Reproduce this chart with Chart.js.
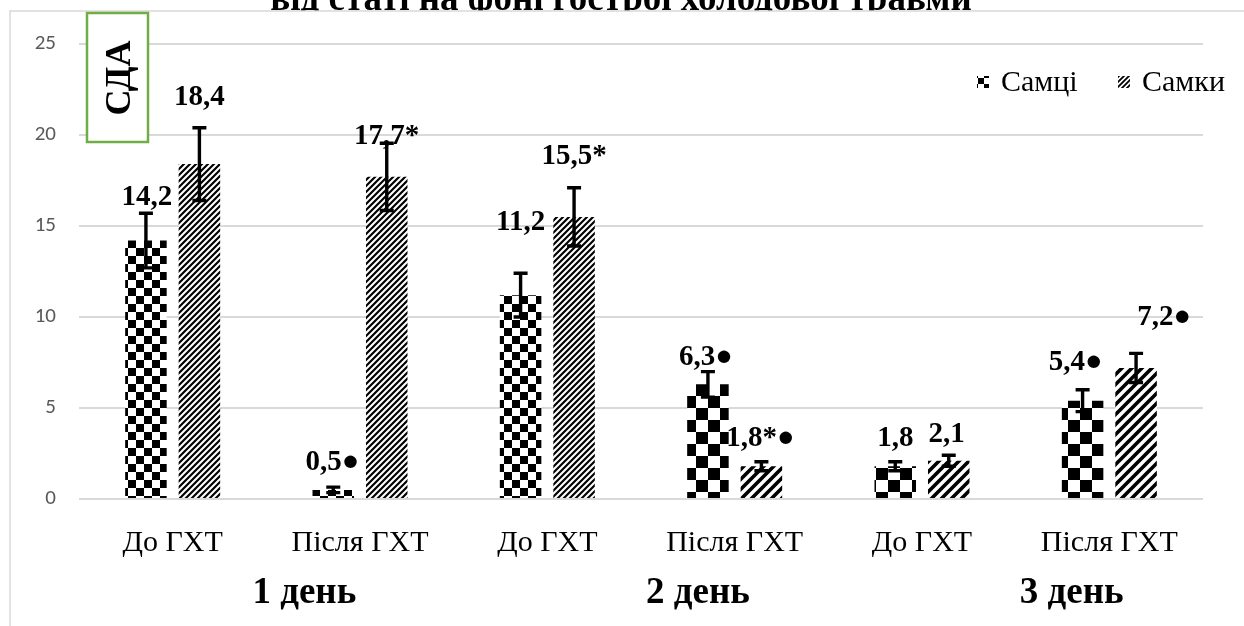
<!DOCTYPE html>
<html>
<head>
<meta charset="utf-8">
<title>СДА</title>
<script src="https://cdn.jsdelivr.net/npm/chart.js"></script>
<style>
  body { margin: 0; background: #fff; }
  #chart { display: block; }
</style>
</head>
<body>
<canvas id="chart" width="1244" height="626"></canvas>
<script>
  // values
  const categories = ['До ГХТ', 'Після ГХТ', 'До ГХТ', 'Після ГХТ', 'До ГХТ', 'Після ГХТ'];
  const days = ['1 день', '2 день', '3 день'];
  const seriesNames = ['Самці', 'Самки'];
  const males = [14.2, 0.5, 11.2, 6.3, 1.8, 5.4];
  const females = [18.4, 17.7, 15.5, 1.8, 2.1, 7.2];
  const malesErr = [1.5, 0.15, 1.2, 0.7, 0.25, 0.6];
  const femalesErr = [2.0, 1.85, 1.6, 0.25, 0.3, 0.8];
  const malesMarks = ['', '●', '', '●', '', '●'];
  const femalesMarks = ['', '*', '*', '*●', '', '●'];
  const yTicks = [0, 5, 10, 15, 20, 25];
  const titleText = 'від статі на фоні гострої холодової травми';
  const boxText = 'СДА';

  // label nudges in px (text boxes were moved by hand in the original)
  const labelDx = [[1, -1, 0, -2, 0, -7], [0, 0, 0, -1, -2, 28]];
  const labelDy = [[-43, -27, -73, -27, -28, -38], [-67, -40, -60, -28, -26, -50]];
  const dayDx = [38, 57, 56];
  // pattern size per category (the later bars had a coarser fill)
  const checkScale = [8, 8, 8, 12, 12, 12];
  const hatchScale = [6, 6, 6, 10, 10, 10];

  const serif = '"Liberation Serif", "Times New Roman", serif';
  const canvas = document.getElementById('chart');
  const ctx = canvas.getContext('2d');

  function checker(size) {
    const c = document.createElement('canvas');
    c.width = c.height = size * 2;
    const g = c.getContext('2d');
    g.fillStyle = '#fff';
    g.fillRect(0, 0, size * 2, size * 2);
    g.fillStyle = '#000';
    g.fillRect(0, 0, size, size);
    g.fillRect(size, size, size, size);
    return ctx.createPattern(c, 'repeat');
  }

  function hatch(s) {
    const c = document.createElement('canvas');
    c.width = c.height = s;
    const g = c.getContext('2d');
    g.fillStyle = '#fff';
    g.fillRect(0, 0, s, s);
    g.strokeStyle = '#000';
    g.lineWidth = s * 0.36;
    g.beginPath();
    g.moveTo(-1, s + 1); g.lineTo(s + 1, -1);
    g.moveTo(-s / 2, s / 2); g.lineTo(s / 2, -s / 2);
    g.moveTo(s / 2, s * 1.5); g.lineTo(s * 1.5, s / 2);
    g.stroke();
    return ctx.createPattern(c, 'repeat');
  }

  const fmt = v => v.toFixed(1).replace('.', ',');

  const decor = {
    id: 'decor',
    beforeDraw(chart) {
      const c = chart.ctx;
      c.save();
      c.fillStyle = '#fff';
      c.fillRect(0, 0, chart.width, chart.height);
      // title, mostly cut off above the frame
      c.save();
      c.beginPath();
      c.rect(0, 0, chart.width, 11);
      c.clip();
      c.fillStyle = '#000';
      c.font = 'bold 37px ' + serif;
      c.textAlign = 'center';
      c.textBaseline = 'alphabetic';
      c.fillText(titleText, 621, 10);
      c.restore();
      // frame
      c.strokeStyle = '#d9d9d9';
      c.lineWidth = 1.5;
      c.beginPath();
      c.moveTo(10, chart.height);
      c.lineTo(10, 11);
      c.lineTo(chart.width, 11);
      c.stroke();
      c.restore();
    },
    afterDatasetsDraw(chart) {
      const c = chart.ctx;
      const y = chart.scales.y;
      const vals = [males, females];
      const errs = [malesErr, femalesErr];
      const marks = [malesMarks, femalesMarks];
      c.save();
      for (let d = 0; d < 2; d++) {
        const meta = chart.getDatasetMeta(d);
        meta.data.forEach((bar, i) => {
          const v = vals[d][i], e = errs[d][i];
          const top = y.getPixelForValue(v + e);
          const bot = y.getPixelForValue(v - e);
          c.strokeStyle = '#000';
          c.lineWidth = 3.4;
          c.beginPath();
          c.moveTo(bar.x, top); c.lineTo(bar.x, bot);
          c.moveTo(bar.x - 7, top); c.lineTo(bar.x + 7, top);
          c.moveTo(bar.x - 7, bot); c.lineTo(bar.x + 7, bot);
          c.stroke();
        });
      }
      c.fillStyle = '#000';
      c.font = 'bold 29px ' + serif;
      c.textAlign = 'center';
      c.textBaseline = 'middle';
      for (let d = 0; d < 2; d++) {
        const meta = chart.getDatasetMeta(d);
        meta.data.forEach((bar, i) => {
          c.fillText(fmt(vals[d][i]) + marks[d][i], bar.x + labelDx[d][i], bar.y + labelDy[d][i]);
        });
      }
      c.restore();
    },
    afterDraw(chart) {
      const c = chart.ctx;
      const x = chart.scales.x;
      c.save();
      // СДА box
      c.fillStyle = '#fff';
      c.fillRect(87, 13, 61, 129);
      c.strokeStyle = '#70ad47';
      c.lineWidth = 2.5;
      c.strokeRect(87, 13, 61, 129);
      c.translate(119, 78);
      c.rotate(-Math.PI / 2);
      c.fillStyle = '#000';
      c.font = 'bold 36px ' + serif;
      c.textAlign = 'center';
      c.textBaseline = 'middle';
      c.fillText(boxText, 0, 2);
      c.restore();

      // legend
      c.save();
      c.font = '30px ' + serif;
      c.textBaseline = 'middle';
      const legX = [977, 1118];
      chart.data.datasets.forEach((ds, d) => {
        c.fillStyle = d === 0 ? checker(6) : hatch(5);
        c.fillRect(legX[d], 76, 12, 12);
        c.fillStyle = '#000';
        c.fillText(ds.label, legX[d] + 24, 83);
      });

      // day captions under the axis
      c.font = 'bold 37px ' + serif;
      c.textAlign = 'center';
      days.forEach((t, k) => {
        const mid = (x.getPixelForValue(2 * k) + x.getPixelForValue(2 * k + 1)) / 2;
        c.fillText(t, mid + dayDx[k], 593);
      });
      c.restore();
    }
  };

  const chart = new Chart(ctx, {
    type: 'bar',
    data: {
      labels: categories,
      datasets: [
        {
          label: seriesNames[0],
          data: males,
          backgroundColor: checkScale.map(s => checker(s)),
          borderWidth: 0,
          categoryPercentage: 0.571,
          barPercentage: 0.776
        },
        {
          label: seriesNames[1],
          data: females,
          backgroundColor: hatchScale.map(s => hatch(s)),
          borderWidth: 0,
          categoryPercentage: 0.571,
          barPercentage: 0.776
        }
      ]
    },
    options: {
      responsive: false,
      animation: false,
      events: [],
      layout: { padding: { top: 44, right: 41, left: 0, bottom: 0 } },
      plugins: {
        legend: { display: false },
        tooltip: { enabled: false }
      },
      scales: {
        x: {
          grid: { display: false },
          border: { display: false },
          ticks: {
            color: '#000',
            padding: 18,
            maxRotation: 0,
            autoSkip: false,
            font: { family: serif, size: 30 }
          },
          afterFit: s => { s.height = 127; }
        },
        y: {
          min: 0,
          max: 25,
          afterBuildTicks: s => { s.ticks = yTicks.map(v => ({ value: v })); },
          grid: { color: '#d9d9d9', lineWidth: 2, drawTicks: false },
          border: { display: false },
          ticks: {
            color: '#595959',
            padding: 23,
            font: { family: 'Carlito, Lato, "Open Sans", sans-serif', size: 21 }
          },
          afterFit: s => { s.width = 79; }
        }
      }
    },
    plugins: [decor]
  });
</script>
</body>
</html>
